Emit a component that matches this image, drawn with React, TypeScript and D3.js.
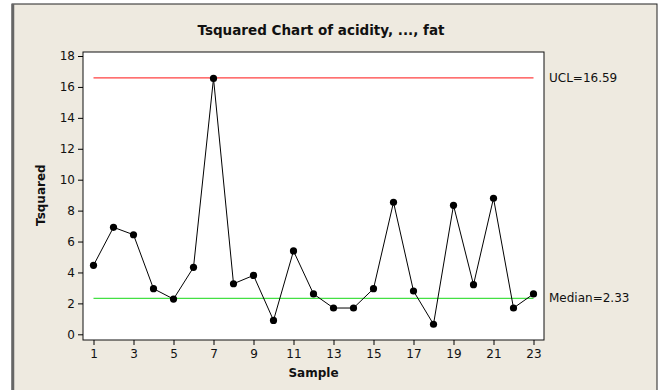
import { useEffect, useRef } from "react";
import * as d3 from "d3";

// sample numbers and T-squared values
const samples = [1, 2, 3, 4, 5, 6, 7, 8, 9, 10, 11, 12, 13, 14, 15, 16, 17, 18, 19, 20, 21, 22, 23];
const tsquared = [4.46, 6.92, 6.44, 2.95, 2.28, 4.33, 16.55, 3.27, 3.81, 0.9, 5.39, 2.61, 1.7, 1.7, 2.95, 8.54, 2.8, 0.65, 8.34, 3.21, 8.8, 1.7, 2.61];
const xTicks = [1, 3, 5, 7, 9, 11, 13, 15, 17, 19, 21, 23];
const yTicks = [0, 2, 4, 6, 8, 10, 12, 14, 16, 18];
const ucl = 16.59;
const median = 2.33;

const App = () => {
    const ref = useRef<SVGSVGElement | null>(null);

    useEffect(() => {
        const svg = d3.select(ref.current);
        svg.selectAll("*").remove();

        const font = "Tahoma, 'DejaVu Sans', Verdana, sans-serif";
        const margin = { top: 52, right: 118, bottom: 50, left: 83 };
        const width = 662 - margin.left - margin.right;
        const height = 390 - margin.top - margin.bottom;

        // outer frame
        svg.append("rect")
            .attr("x", 12)
            .attr("y", 4)
            .attr("width", 645)
            .attr("height", 400)
            .attr("fill", "#EEEAE0")
            .attr("stroke", "#222")
            .attr("stroke-width", 1);
        svg.append("line")
            .attr("x1", 13).attr("x2", 13)
            .attr("y1", 4).attr("y2", 390)
            .attr("stroke", "#666")
            .attr("stroke-width", 2.5);

        const g = svg.append("g")
            .attr("transform", `translate(${margin.left},${margin.top})`);

        const x = d3.scaleLinear()
            .domain([1, 23])
            .range([10.5, 450.5]);

        const y = d3.scaleLinear()
            .domain([0, 18])
            .range([282.3, 4]);

        // plot area
        g.append("rect")
            .attr("x", 0)
            .attr("y", 0)
            .attr("width", width)
            .attr("height", height)
            .attr("fill", "#FFFFFF")
            .attr("stroke", "#111")
            .attr("stroke-width", 1);

        // axes
        const xAxis = g.append("g")
            .attr("transform", `translate(0,${height})`)
            .call(d3.axisBottom(x).tickValues(xTicks).tickSize(5).tickSizeOuter(0).tickFormat(d3.format("d")));
        xAxis.select(".domain").remove();
        xAxis.selectAll("text")
            .attr("font-family", font)
            .attr("font-size", "12px")
            .attr("fill", "#111")
            .attr("dy", "0.85em");

        const yAxis = g.append("g")
            .call(d3.axisLeft(y).tickValues(yTicks).tickSize(5).tickSizeOuter(0).tickFormat(d3.format("d")));
        yAxis.select(".domain").remove();
        yAxis.selectAll("text")
            .attr("font-family", font)
            .attr("font-size", "12px")
            .attr("fill", "#111");

        // control lines
        g.append("line")
            .attr("x1", x(1)).attr("x2", x(23))
            .attr("y1", y(ucl)).attr("y2", y(ucl))
            .attr("stroke", "#FF4040")
            .attr("stroke-width", 1.3);
        g.append("line")
            .attr("x1", x(1)).attr("x2", x(23))
            .attr("y1", y(median)).attr("y2", y(median))
            .attr("stroke", "#44E044")
            .attr("stroke-width", 1.3);

        const parsed = samples.map((s, i) => ({ s, v: tsquared[i] }));

        const line = d3.line<{ s: number; v: number }>()
            .x(d => x(d.s))
            .y(d => y(d.v));

        g.append("path")
            .datum(parsed)
            .attr("fill", "none")
            .attr("stroke", "#000")
            .attr("stroke-width", 1)
            .attr("d", line);

        g.selectAll(".pt")
            .data(parsed)
            .enter()
            .append("circle")
            .attr("cx", d => x(d.s))
            .attr("cy", d => y(d.v))
            .attr("r", 3.6)
            .attr("fill", "#000");

        // right-side labels
        g.append("text")
            .attr("x", width + 5)
            .attr("y", y(ucl))
            .attr("dy", "0.35em")
            .attr("font-family", font)
            .attr("font-size", "12px")
            .attr("fill", "#111")
            .text(`UCL=${ucl}`);
        g.append("text")
            .attr("x", width + 5)
            .attr("y", y(median))
            .attr("dy", "0.35em")
            .attr("font-family", font)
            .attr("font-size", "12px")
            .attr("fill", "#111")
            .text(`Median=${median}`);

        // title
        svg.append("text")
            .attr("x", 321)
            .attr("y", 35)
            .attr("text-anchor", "middle")
            .attr("font-family", font)
            .attr("font-size", "13.5px")
            .attr("font-weight", "bold")
            .attr("fill", "#111")
            .text("Tsquared Chart of acidity, ..., fat");

        // axis labels
        svg.append("text")
            .attr("x", margin.left + width / 2)
            .attr("y", 377)
            .attr("text-anchor", "middle")
            .attr("font-family", font)
            .attr("font-size", "12px")
            .attr("font-weight", "bold")
            .attr("fill", "#111")
            .text("Sample");
        svg.append("text")
            .attr("transform", `translate(45,${margin.top + y(9)}) rotate(-90)`)
            .attr("text-anchor", "middle")
            .attr("font-family", font)
            .attr("font-size", "12px")
            .attr("font-weight", "bold")
            .attr("fill", "#111")
            .text("Tsquared");
    }, []);

    return (
        <svg
            ref={ref}
            width={662}
            height={390}
            style={{ position: "absolute", left: 0, top: 0 }}
        />
    );
};

export default App;
